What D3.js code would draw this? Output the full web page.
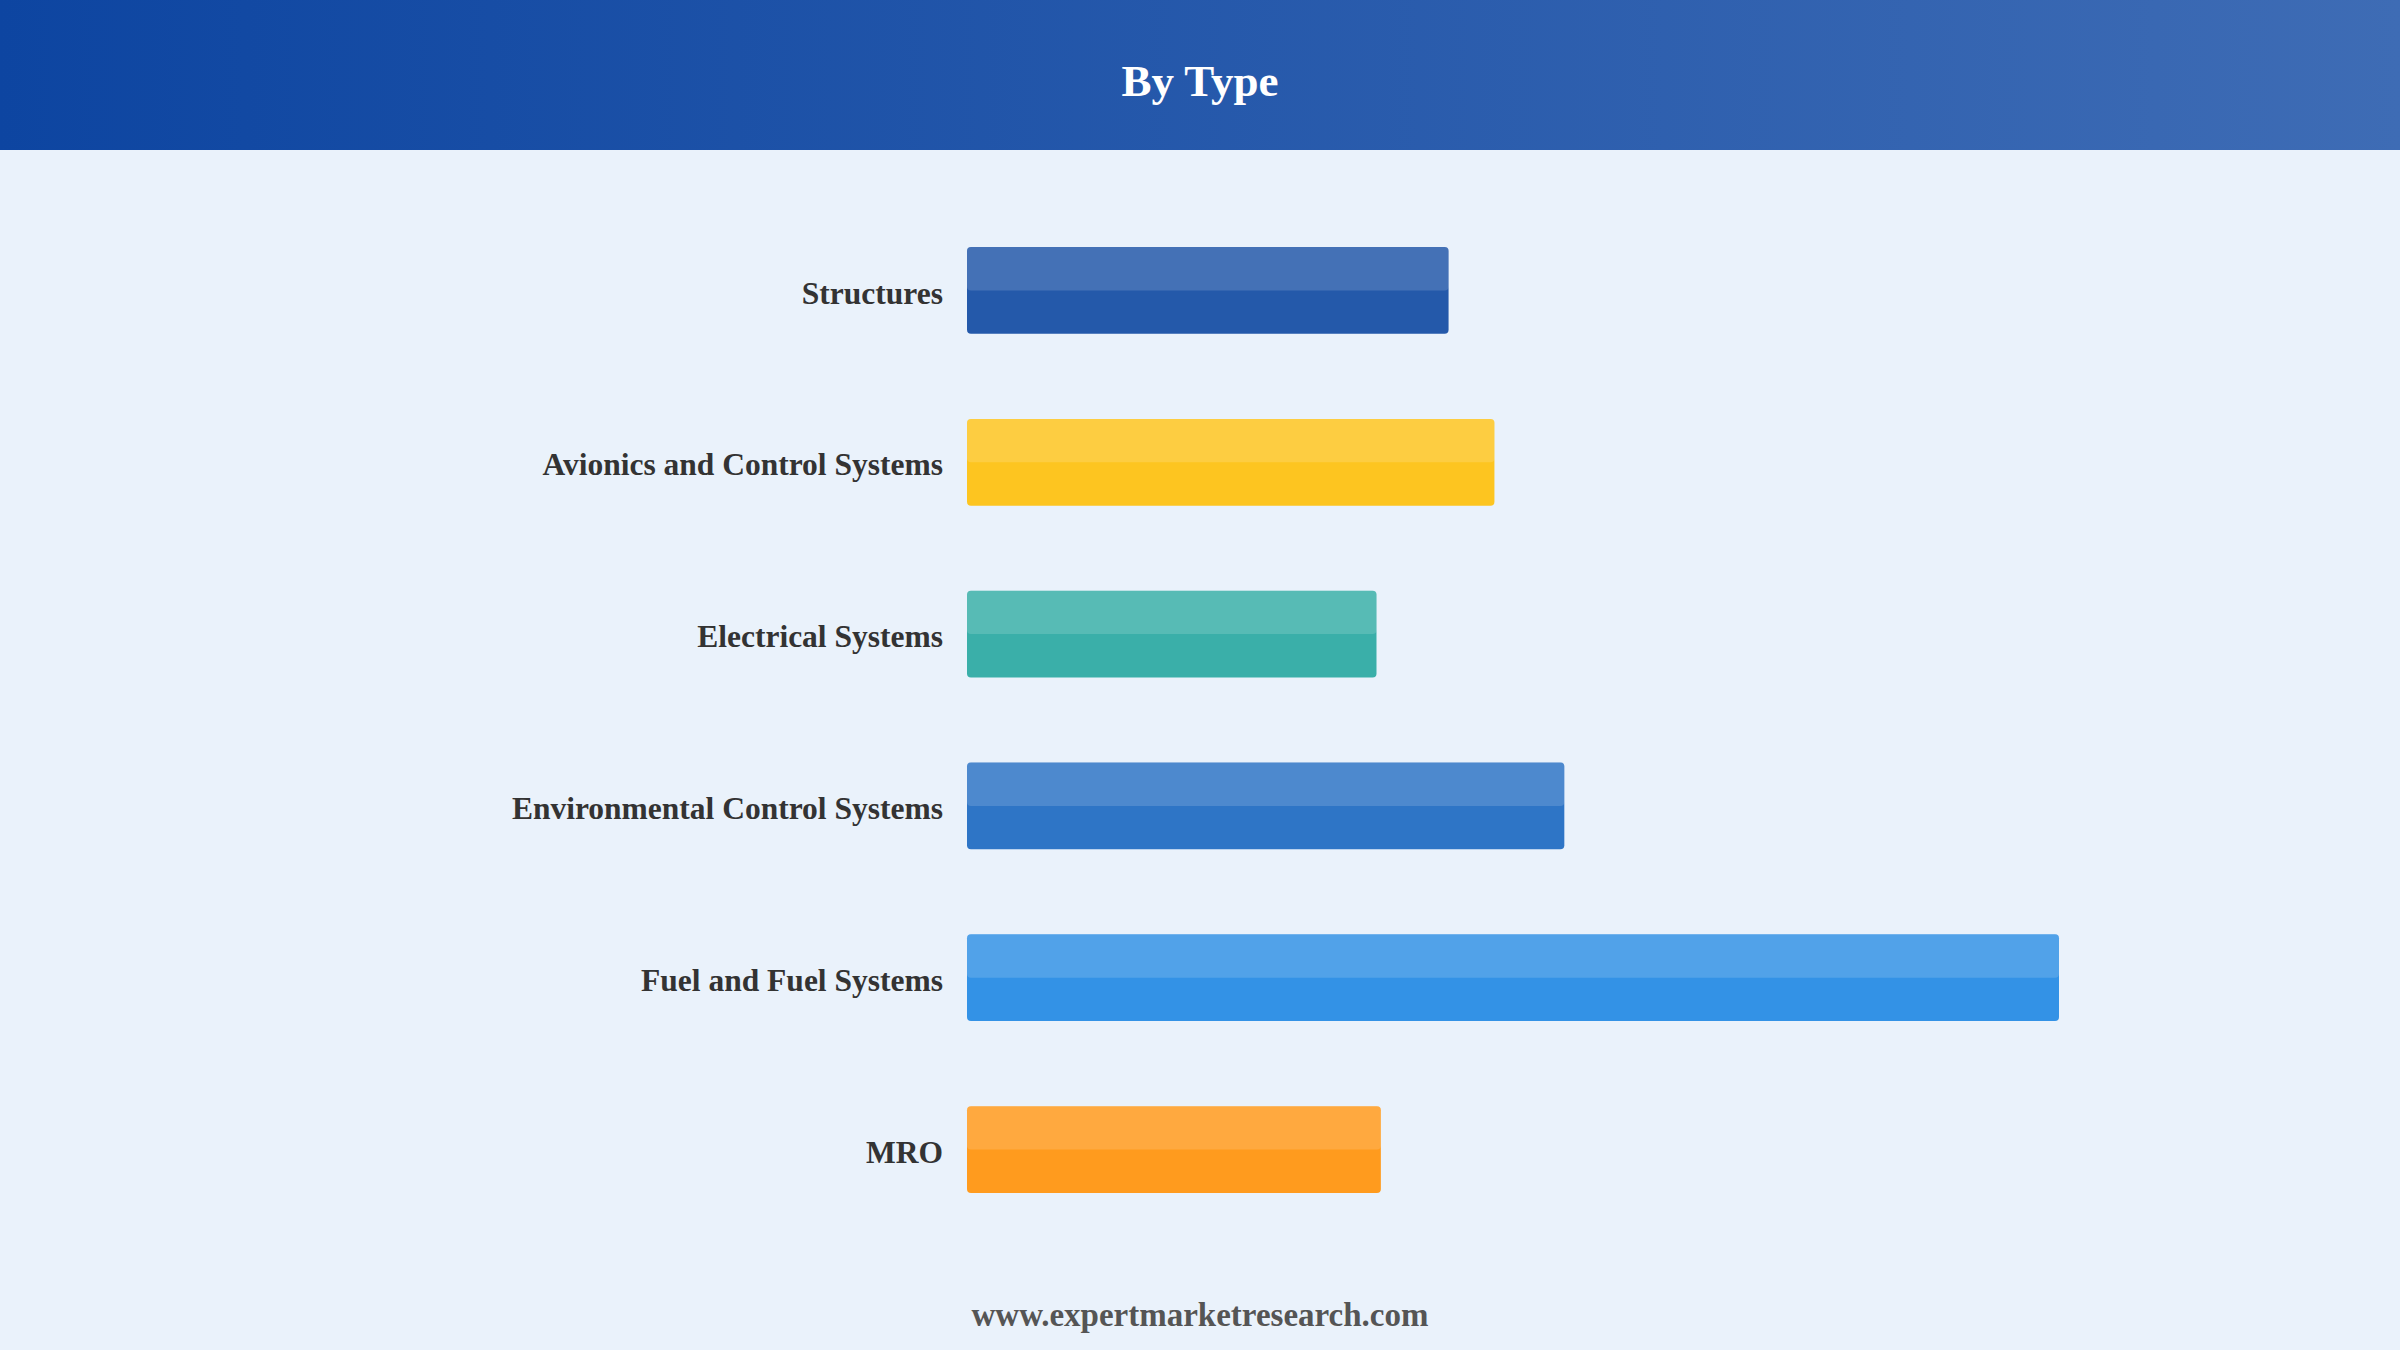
<!DOCTYPE html>
<html><head><meta charset="utf-8">
<script src="https://cdn.jsdelivr.net/npm/d3@7"></script>
<style>html,body{margin:0;padding:0;background:#EAF2FB;}svg{display:block;}</style>
</head><body>
<script>
const categories = ["Structures","Avionics and Control Systems","Electrical Systems","Environmental Control Systems","Fuel and Fuel Systems","MRO"];
const values = [44.1, 48.3, 37.5, 54.7, 100, 37.9];
const barColors = ["#2459AA","#FDC520","#3AAFA9","#2E75C6","#3392E6","#FF9B1E"];
const title = "By Type";
const footer = "www.expertmarketresearch.com";

const W = 2400, H = 1350;
const svg = d3.select("body").append("svg").attr("width", W).attr("height", H);
const defs = svg.append("defs");
const grad = defs.append("linearGradient").attr("id","hdr").attr("x1","0%").attr("x2","100%");
grad.append("stop").attr("offset","0%").attr("stop-color","#0D45A1");
grad.append("stop").attr("offset","100%").attr("stop-color","#3E6CB5");

svg.append("rect").attr("width",W).attr("height",H).attr("fill","#EAF2FB");
svg.append("rect").attr("width",W).attr("height",150).attr("fill","url(#hdr)");
svg.append("text").attr("x",W/2).attr("y",96).attr("text-anchor","middle")
  .attr("font-family","'Liberation Serif','Times New Roman',serif").attr("font-weight","bold")
  .attr("font-size",45).attr("fill","#fff").text(title);

const x = d3.scaleLinear().domain([0, 100]).range([967, 2059]);
const y = d3.scaleBand().domain(categories).range([205, 1235]).paddingInner(0.495).paddingOuter(0.245);

const g = svg.append("g");
const rows = g.selectAll("g.row").data(categories).join("g").attr("class","row");
rows.append("rect")
  .attr("x", x(0)).attr("y", d => y(d))
  .attr("width", (d,i) => x(values[i]) - x(0)).attr("height", y.bandwidth())
  .attr("rx", 4).attr("fill", (d,i) => barColors[i]);
rows.append("rect")
  .attr("x", x(0)).attr("y", d => y(d))
  .attr("width", (d,i) => x(values[i]) - x(0)).attr("height", y.bandwidth()/2)
  .attr("rx", 4).attr("fill", "#fff").attr("fill-opacity", 0.15);
rows.append("text")
  .attr("x", x(0) - 24).attr("y", d => y(d) + y.bandwidth()/2 + 2)
  .attr("dy", "0.35em").attr("text-anchor","end")
  .attr("font-family","'Liberation Serif','Times New Roman',serif").attr("font-weight","bold")
  .attr("font-size",31.5).attr("fill","#333").text(d => d);

svg.append("text").attr("x",W/2).attr("y",1326).attr("text-anchor","middle")
  .attr("font-family","'Liberation Serif','Times New Roman',serif").attr("font-weight","bold")
  .attr("font-size",33).attr("fill","#555").text(footer);
</script>
</body></html>
